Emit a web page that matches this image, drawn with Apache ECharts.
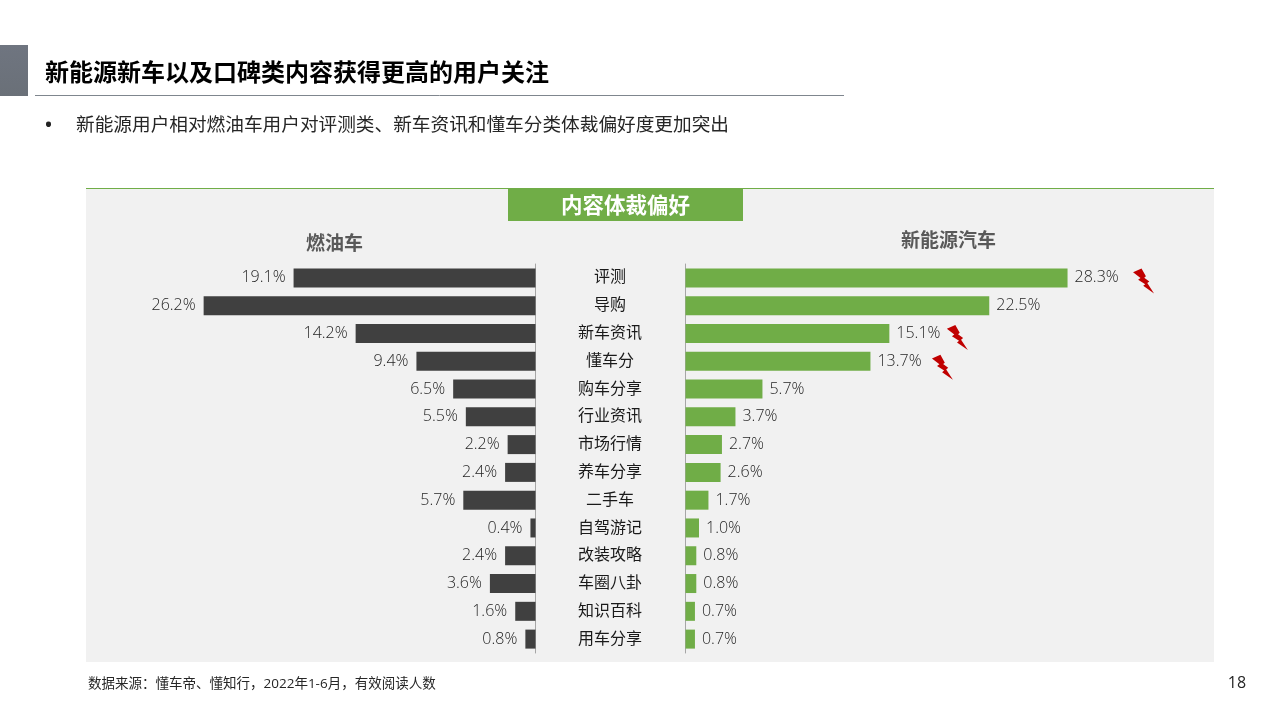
<!DOCTYPE html>
<html><head><meta charset="utf-8">
<style>html,body{margin:0;padding:0;background:#fff}#c{width:1280px;height:720px}</style>
<script src="https://cdn.jsdelivr.net/npm/echarts@6/dist/echarts.min.js"></script>
</head><body><div id="c"></div>
<script>
const categories = ['评测','导购','新车资讯','懂车分','购车分享','行业资讯','市场行情','养车分享','二手车','自驾游记','改装攻略','车圈八卦','知识百科','用车分享'];
const fuelValues = [19.1,26.2,14.2,9.4,6.5,5.5,2.2,2.4,5.7,0.4,2.4,3.6,1.6,0.8];
const nevValues = [28.3,22.5,15.1,13.7,5.7,3.7,2.7,2.6,1.7,1.0,0.8,0.8,0.7,0.7];
const highlighted = ['评测','新车资讯','懂车分'];
const boltOffsets = [[76,3],[68,4],[72,6]];

const pageTitle = '新能源新车以及口碑类内容获得更高的用户关注';
const subtitle = '新能源用户相对燃油车用户对评测类、新车资讯和懂车分类体裁偏好度更加突出';
const panelTitle = '内容体裁偏好';
const fuelName = '燃油车';
const nevName = '新能源汽车';
const sourceNote = '数据来源：懂车帝、懂知行，2022年1-6月，有效阅读人数';
const pageNumber = '18';

const CJK = '"Open Sans","Noto Sans CJK SC",sans-serif';
const bolt = 'path://M0,11 L25,0 L38,23 L33,27 L48,38 L42,43 L62,73 L30,51 L36,46 L15,33 L22,28 Z';
const txt = (x,y,text,size,color,weight,align) => ({type:'text',x,y,z:5,style:{text,fill:color,fontSize:size,fontWeight:weight||'normal',fontFamily:CJK,textAlign:align||'left',textVerticalAlign:'middle'}});

const chart = echarts.init(document.getElementById('c'),null,{renderer:'canvas'});
chart.setOption({
  animation:false,
  backgroundColor:'#fff',
  graphic:[
    {type:'rect',z:0,shape:{x:0,y:45,width:28,height:51},style:{fill:new echarts.graphic.LinearGradient(0,0,0,1,[{offset:0,color:'#6f7580'},{offset:1,color:'#6a7078'}])}},
    {type:'line',z:0,shape:{x1:35,y1:95.5,x2:844,y2:95.5},style:{stroke:'#7f868e',lineWidth:1}},
    {type:'rect',z:0,shape:{x:86,y:188,width:1128,height:474},style:{fill:'#f1f1f1'}},
    {type:'line',z:1,shape:{x1:86,y1:188.5,x2:1214,y2:188.5},style:{stroke:'#70ad47',lineWidth:1}},
    {type:'rect',z:1,shape:{x:508,y:189,width:235,height:32},style:{fill:'#70ad47'}},
    txt(45,74.5,pageTitle,24,'#000','bold'),
    txt(44,126,'•',24,'#222'),
    txt(76,126,subtitle,18.67,'#262626'),
    txt(625.5,206.5,panelTitle,21.5,'#fff','bold','center'),
    txt(334.5,245,fuelName,19,'#595959','bold','center'),
    txt(948.5,242,nevName,19,'#595959','bold','center'),
    txt(88,684,sourceNote,13.5,'#262626'),
    txt(1237,683,pageNumber,16,'#262626','normal','center')
  ],
  grid:[
    {left:155.5,width:380,top:264,height:389},
    {left:685.5,width:405,top:264,height:389}
  ],
  xAxis:[
    {gridIndex:0,type:'value',inverse:true,min:0,max:30,show:false},
    {gridIndex:1,type:'value',min:0,max:30,show:false}
  ],
  yAxis:[
    {gridIndex:0,type:'category',inverse:true,position:'right',data:categories,
      axisLine:{show:true,lineStyle:{color:'#a6a6a6',width:1}},axisTick:{show:false},splitLine:{show:false},
      axisLabel:{inside:false,margin:74.5,align:'center',verticalAlign:'middle',fontSize:16,color:'#1a1a1a',fontFamily:CJK}},
    {gridIndex:1,type:'category',inverse:true,position:'left',data:categories,
      axisLine:{show:true,lineStyle:{color:'#a6a6a6',width:1}},axisTick:{show:false},splitLine:{show:false},axisLabel:{show:false}}
  ],
  series:[
    {type:'bar',xAxisIndex:0,yAxisIndex:0,data:fuelValues,barWidth:19,itemStyle:{color:'#404040'},
      label:{show:true,position:'left',distance:8,fontSize:16,fontWeight:300,color:'#262626',fontFamily:CJK,formatter:p=>p.value.toFixed(1)+'%'}},
    {type:'bar',xAxisIndex:1,yAxisIndex:1,data:nevValues,barWidth:19,itemStyle:{color:'#70ad47'},
      label:{show:true,position:'right',distance:7,fontSize:16,fontWeight:300,color:'#262626',fontFamily:CJK,formatter:p=>p.value.toFixed(1)+'%'},
      markPoint:{silent:true,label:{show:false},symbol:bolt,symbolSize:[21,25],symbolKeepAspect:false,itemStyle:{color:'#c00000'},
        data:highlighted.map((c,i)=>({coord:[nevValues[categories.indexOf(c)],c],symbolOffset:boltOffsets[i]}))}}
  ]
});
</script></body></html>
